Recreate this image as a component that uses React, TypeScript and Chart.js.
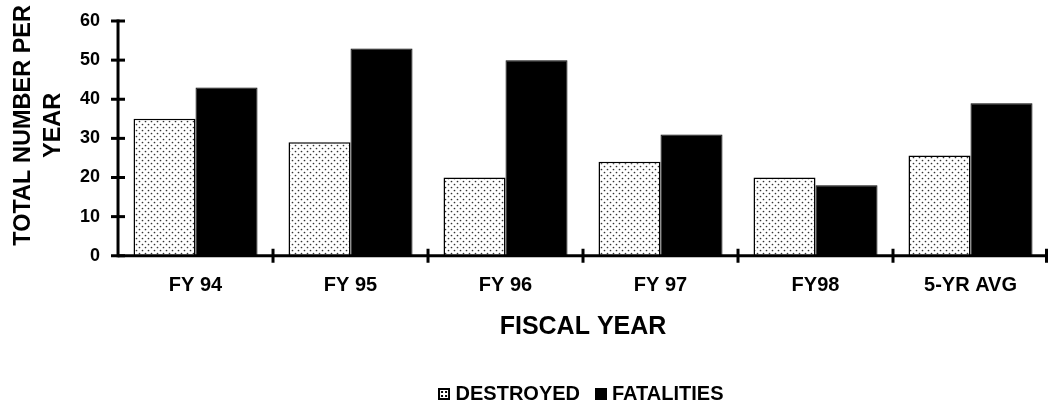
import React, { useEffect, useRef } from "react";
import { Chart, registerables } from "chart.js";

Chart.register(...registerables);

const categories = ["FY 94", "FY 95", "FY 96", "FY 97", "FY98", "5-YR AVG"];
const destroyed = [35, 29, 20, 24, 20, 25.6];
const fatalities = [43, 53, 50, 31, 18, 39];
const yTicks = [0, 10, 20, 30, 40, 50, 60];
const yTitleLines = ["TOTAL NUMBER PER", "YEAR"];
const xTitle = "FISCAL YEAR";
const seriesNames = ["DESTROYED", "FATALITIES"];

const FONT = "'Liberation Sans', Arial, Helvetica, sans-serif";

function dotTile(): HTMLCanvasElement {
  const c = document.createElement("canvas");
  c.width = 6;
  c.height = 6;
  const g = c.getContext("2d")!;
  g.fillStyle = "#ffffff";
  g.fillRect(0, 0, 6, 6);
  g.fillStyle = "#333333";
  g.beginPath();
  g.arc(1.5, 1.5, 0.85, 0, Math.PI * 2);
  g.fill();
  g.beginPath();
  g.arc(4.5, 4.5, 0.85, 0, Math.PI * 2);
  g.fill();
  return c;
}

function makePattern(): CanvasPattern | string {
  const ctx = document.createElement("canvas").getContext("2d");
  return ctx ? (ctx.createPattern(dotTile(), "repeat") as CanvasPattern) : "#fff";
}

function legendIcon(kind: "dots" | "solid"): HTMLCanvasElement {
  const c = document.createElement("canvas");
  c.width = 12;
  c.height = 12;
  const g = c.getContext("2d")!;
  if (kind === "solid") {
    g.fillStyle = "#000";
    g.fillRect(0, 0, 12, 12);
  } else {
    g.fillStyle = "#fff";
    g.fillRect(0, 0, 12, 12);
    g.fillStyle = "#000";
    g.fillRect(3, 3, 2, 2);
    g.fillRect(7, 3, 2, 2);
    g.fillRect(3, 7, 2, 2);
    g.fillRect(7, 7, 2, 2);
    g.strokeStyle = "#000";
    g.lineWidth = 2;
    g.strokeRect(1, 1, 10, 10);
  }
  return c;
}

const axesPlugin = {
  id: "customAxes",
  afterDatasetsDraw(chart: any) {
    const { ctx, chartArea, scales } = chart;
    const x = scales.x;
    const y = scales.y;
    ctx.save();
    ctx.strokeStyle = "#000";
    ctx.lineWidth = 3;
    ctx.lineCap = "butt";
    ctx.beginPath();
    ctx.moveTo(chartArea.left, y.getPixelForValue(yTicks[yTicks.length - 1]) - 1.5);
    ctx.lineTo(chartArea.left, chartArea.bottom + 1.5);
    ctx.stroke();
    ctx.beginPath();
    ctx.moveTo(chartArea.left, chartArea.bottom);
    ctx.lineTo(chartArea.right, chartArea.bottom);
    ctx.stroke();
    yTicks.forEach((v) => {
      const py = y.getPixelForValue(v);
      ctx.beginPath();
      ctx.moveTo(chartArea.left - 7, py);
      ctx.lineTo(chartArea.left + 7, py);
      ctx.stroke();
    });
    const n = categories.length;
    for (let i = 1; i <= n; i++) {
      let px: number;
      if (i === n) px = chartArea.right - 1.5;
      else px = (x.getPixelForValue(i - 1) + x.getPixelForValue(i)) / 2;
      ctx.beginPath();
      ctx.moveTo(px, chartArea.bottom - 7);
      ctx.lineTo(px, chartArea.bottom + 7);
      ctx.stroke();
    }
    // y axis title
    ctx.fillStyle = "#000";
    ctx.font = `bold 23.5px ${FONT}`;
    ctx.textAlign = "center";
    ctx.textBaseline = "middle";
    const cy = (chartArea.top + chartArea.bottom) / 2 - 13;
    yTitleLines.forEach((line, i) => {
      ctx.save();
      ctx.translate(24 + i * 30, cy);
      ctx.rotate(-Math.PI / 2);
      ctx.fillText(line, 0, 0);
      ctx.restore();
    });
    ctx.restore();
  },
};

export default function App() {
  const ref = useRef<HTMLCanvasElement>(null);
  useEffect(() => {
    if (!ref.current) return;
    const pattern = makePattern();
    const icons = [legendIcon("dots"), legendIcon("solid")];
    const chart = new Chart(ref.current, {
      type: "bar",
      data: {
        labels: categories,
        datasets: [
          {
            label: seriesNames[0],
            data: destroyed,
            backgroundColor: pattern as any,
            borderColor: "#000",
            borderWidth: 1.5,
            categoryPercentage: 0.8,
            barPercentage: 1.0,
          },
          {
            label: seriesNames[1],
            data: fatalities,
            backgroundColor: "#000",
            borderColor: "#000",
            borderWidth: 1,
            categoryPercentage: 0.8,
            barPercentage: 1.0,
          },
        ],
      },
      options: {
        animation: false,
        responsive: false,
        maintainAspectRatio: false,
        layout: { padding: { top: 21, right: 2, left: 62, bottom: -7 } },
        plugins: {
          tooltip: { enabled: false },
          legend: {
            position: "bottom",
            fullSize: false,
            labels: {
              color: "#000",
              font: { family: FONT, size: 20, weight: "bold" },
              boxWidth: 3,
              boxHeight: 12,
              padding: 19,
              usePointStyle: true,
              generateLabels: () =>
                seriesNames.map((name, i) => ({
                  text: name,
                  pointStyle: icons[i] as any,
                  fillStyle: "#000",
                  strokeStyle: "#000",
                  lineWidth: 0,
                  hidden: false,
                  datasetIndex: i,
                  fontColor: "#000",
                })),
            },
          },
        },
        scales: {
          x: {
            grid: { display: false, drawTicks: false },
            border: { display: false },
            ticks: {
              color: "#000",
              padding: 18,
              font: { family: FONT, size: 20, weight: "bold" },
              maxRotation: 0,
            },
            title: {
              display: true,
              text: xTitle,
              color: "#000",
              font: { family: FONT, size: 25, weight: "bold", lineHeight: 0.85 },
              padding: { top: 1, bottom: 27 },
            },
          },
          y: {
            min: 0,
            max: 60,
            grid: { display: false, drawTicks: false },
            border: { display: false },
            ticks: {
              stepSize: 10,
              color: "#000",
              padding: 18,
              font: { family: FONT, size: 18, weight: "bold" },
            },
            afterFit: (scale: any) => {
              scale.paddingTop = 0;
              scale.paddingBottom = 0;
            },
          },
        },
      },
      plugins: [axesPlugin],
    });
    return () => chart.destroy();
  }, []);
  return (
    <div style={{ position: "fixed", left: 0, top: 0, width: 1050, height: 407, background: "#fff" }}>
      <canvas ref={ref} width={1050} height={407} />
    </div>
  );
}
